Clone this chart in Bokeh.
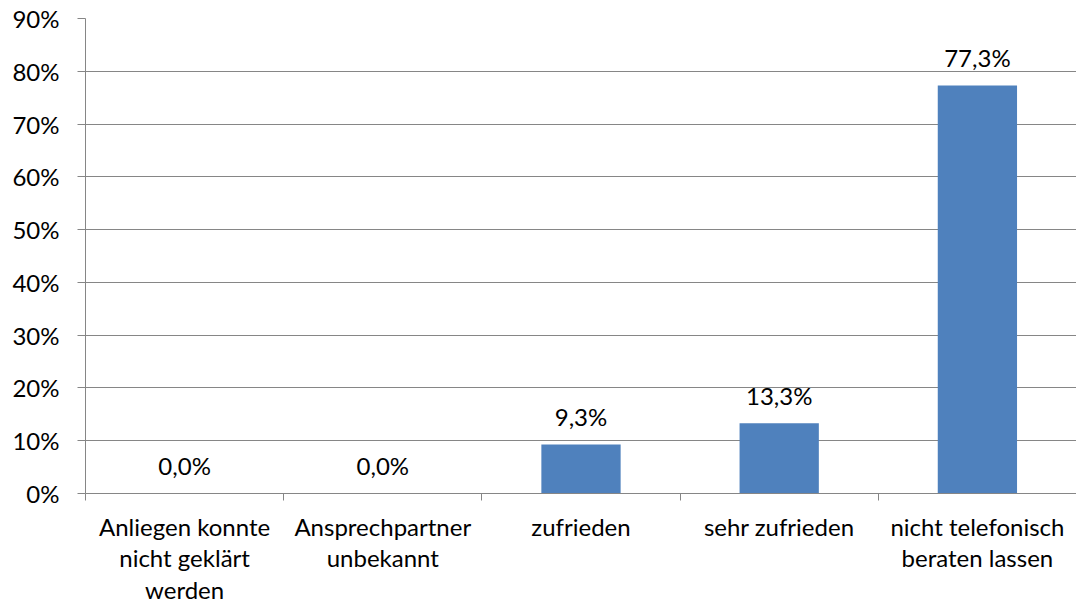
from bokeh.plotting import figure
from bokeh.models import Range1d, FixedTicker, ColumnDataSource
from bokeh.core.properties import value
from bokeh.embed import file_html
from bokeh.resources import INLINE

categories = ["Anliegen konnte\nnicht geklärt\nwerden", "Ansprechpartner\nunbekannt",
              "zufrieden", "sehr zufrieden", "nicht telefonisch\nberaten lassen"]
values = [0.0, 0.0, 9.3, 13.3, 77.3]
y_ticks = [0, 10, 20, 30, 40, 50, 60, 70, 80, 90]
y_tick_labels = ["0%", "10%", "20%", "30%", "40%", "50%", "60%", "70%", "80%", "90%"]

FONT = "Lato"
FS = "24px"
GRAY = "#868686"

xs = [i + 0.5 for i in range(len(categories))]
src = ColumnDataSource(dict(x=xs, top=values,
                            lab=[f"{v:.1f}".replace(".", ",") + "%" for v in values]))

p = figure(frame_width=991, frame_height=475, output_backend="svg", toolbar_location=None,
           x_range=Range1d(0, len(categories)), y_range=Range1d(0, 90),
           min_border_left=85, min_border_top=18, min_border_right=0, min_border_bottom=0)
p.outline_line_color = None
p.background_fill_color = "white"
p.border_fill_color = "white"

p.vbar(x="x", top="top", width=0.4, bottom=0, source=src, fill_color="#4F81BD", line_color=None)
p.text(x="x", y="top", text="lab", source=src, text_align="center", text_baseline="alphabetic",
       y_offset=-28, text_font=value(FONT), text_font_size=FS, text_color="black")

# y axis
p.yaxis.ticker = FixedTicker(ticks=y_ticks)
p.yaxis.major_label_overrides = {t: l for t, l in zip(y_ticks, y_tick_labels)}
p.yaxis.axis_line_color = GRAY
p.yaxis.major_tick_line_color = GRAY
p.yaxis.major_tick_out = 8
p.yaxis.major_tick_in = 0
p.yaxis.minor_tick_line_color = None
p.yaxis.major_label_text_font = FONT
p.yaxis.major_label_text_font_size = FS
p.yaxis.major_label_text_color = "black"
p.yaxis.major_label_standoff = 18

# x axis
p.xaxis.ticker = FixedTicker(ticks=xs, minor_ticks=list(range(len(categories) + 1)))
p.xaxis.major_label_overrides = {x: c for x, c in zip(xs, categories)}
p.xaxis.axis_line_color = GRAY
p.xaxis.major_tick_line_color = None
p.xaxis.major_tick_out = 0
p.xaxis.major_tick_in = 0
p.xaxis.minor_tick_line_color = GRAY
p.xaxis.minor_tick_out = 7
p.xaxis.minor_tick_in = 0
p.xaxis.major_label_text_font = FONT
p.xaxis.major_label_text_font_size = FS
p.xaxis.major_label_text_color = "black"
p.xaxis.major_label_text_line_height = 1.1
p.xaxis.major_label_standoff = 11

p.xgrid.grid_line_color = None
p.ygrid.ticker = FixedTicker(ticks=y_ticks)
p.ygrid.grid_line_color = GRAY
p.ygrid.grid_line_width = 1

open("out.html", "w").write(file_html(p, INLINE))
